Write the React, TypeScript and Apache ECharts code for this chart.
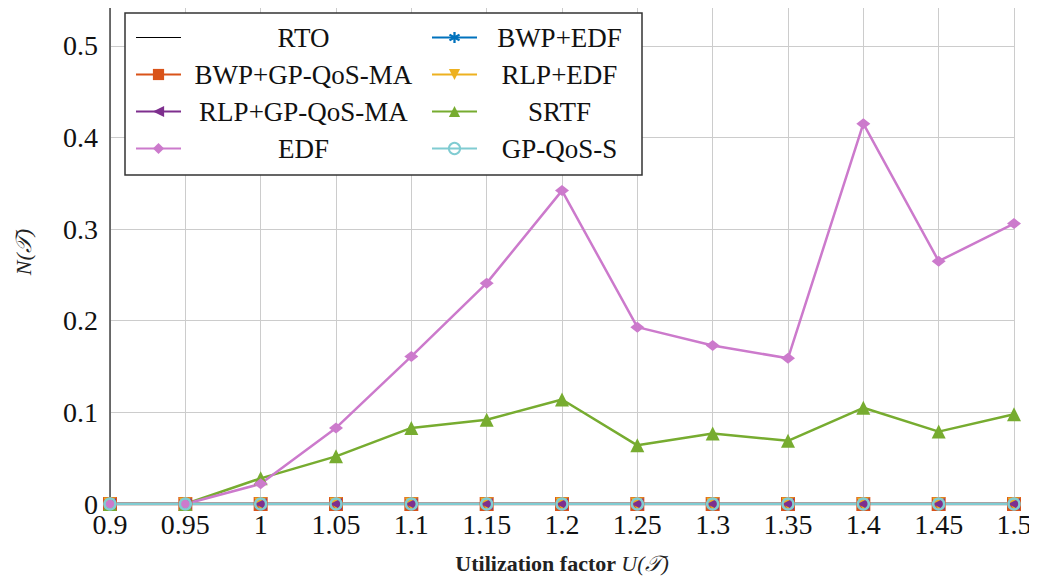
import React, { useEffect, useRef } from "react";
import * as echarts from "echarts";

const categories = ["0.9", "0.95", "1", "1.05", "1.1", "1.15", "1.2", "1.25", "1.3", "1.35", "1.4", "1.45", "1.5"];
const zeros = [0, 0, 0, 0, 0, 0, 0, 0, 0, 0, 0, 0, 0];
const rto = zeros;
const bwpEdf = zeros;
const bwpGpQosMa = zeros;
const rlpEdf = zeros;
const rlpGpQosMa = zeros;
const srtf = [0, 0, 0.028, 0.052, 0.083, 0.092, 0.114, 0.064, 0.077, 0.069, 0.105, 0.079, 0.098];
const edf = [0, 0, 0.022, 0.083, 0.161, 0.241, 0.342, 0.193, 0.173, 0.159, 0.415, 0.265, 0.306];
const gpQosS = zeros;
const yTicks = [0, 0.1, 0.2, 0.3, 0.4, 0.5];

const FONT = "Liberation Serif";
const DIAMOND = "path://M0,5L7,0L14,5L7,10Z";
const ASTERISK =
  "path://M4,0h2v3.3l2.9-1.7l1,1.7L7,5l2.9,1.7l-1,1.7L6,6.7V10H4V6.7L1.1,8.4l-1-1.7L3,5L0.1,3.3l1-1.7L4,3.3Z";
const STRIPE = "path://M0,0h0.01v0.01h-0.01z M0,6.6H45V7.4H0z M44.99,13.99h0.01v0.01h-0.01z";

const col1 = ["RTO", "BWP+GP-QoS-MA", "RLP+GP-QoS-MA", "EDF"];

export default function App() {
  const ref = useRef<HTMLDivElement>(null);
  useEffect(() => {
    if (!ref.current) return;
    const chart = echarts.init(ref.current, undefined, { renderer: "svg" });
    const mk = (name: string, data: number[], color: string, symbol: string, size: any, extra: any = {}) => ({
      name,
      type: "line",
      data,
      symbol,
      symbolSize: size,
      showSymbol: symbol !== "none",
      lineStyle: { color, width: 2.5 },
      itemStyle: { color },
      emphasis: { disabled: true },
      ...extra,
    });
    chart.setOption({
      animation: false,
      backgroundColor: "#ffffff",
      grid: { left: 110, right: 23, top: 0, bottom: 82, containLabel: false },
      legend: {
        left: 125,
        top: 13,
        width: 505,
        orient: "horizontal",
        itemWidth: 45,
        itemHeight: 14,
        itemGap: 10,
        itemTextGap: 5,
        padding: [11, 5, 13, 10],
        borderColor: "#333333",
        borderWidth: 1.5,
        backgroundColor: "#ffffff",
        data: [
          { name: "RTO", icon: STRIPE },
          "BWP+EDF",
          "BWP+GP-QoS-MA",
          "RLP+EDF",
          "RLP+GP-QoS-MA",
          "SRTF",
          "EDF",
          "GP-QoS-S",
        ],
        formatter: (n: string) => (col1.includes(n) ? `{a|${n}}` : `{b|${n}}`),
        textStyle: {
          fontFamily: FONT,
          fontSize: 27,
          color: "#111",
          rich: {
            a: { width: 235, align: "center", fontFamily: FONT, fontSize: 27, lineHeight: 24, color: "#111" },
            b: { width: 155, align: "center", fontFamily: FONT, fontSize: 27, lineHeight: 24, color: "#111" },
          },
        },
      },
      xAxis: {
        type: "category",
        data: categories,
        boundaryGap: false,
        name: "{b|Utilization factor }{i|U(𝒯)}",
        nameLocation: "middle",
        nameGap: 48,
        nameTextStyle: {
          rich: {
            b: { fontFamily: FONT, fontSize: 22, fontWeight: "bold", color: "#222" },
            i: { fontFamily: FONT, fontSize: 22, fontStyle: "italic", color: "#222" },
          },
        },
        axisLine: { show: true, lineStyle: { color: "#444", width: 1.5 } },
        axisTick: { show: false },
        axisLabel: { fontFamily: FONT, fontSize: 28, color: "#111", margin: 6 },
        splitLine: { show: true, lineStyle: { color: "#cccccc", width: 1 } },
      },
      yAxis: {
        type: "value",
        min: 0,
        max: 0.55,
        interval: 0.1,
        name: "{i|N(𝒯)}",
        nameLocation: "middle",
        nameGap: 76,
        nameTextStyle: {
          rich: { i: { fontFamily: FONT, fontSize: 22, fontStyle: "italic", color: "#222" } },
        },
        axisLine: { show: true, lineStyle: { color: "#444", width: 1.5 } },
        axisTick: { show: false },
        axisLabel: {
          fontFamily: FONT,
          fontSize: 28,
          color: "#111",
          margin: 12,
          formatter: (v: number) => {
            const t = yTicks.find((y) => Math.abs(y - v) < 1e-6);
            return t === undefined ? "" : String(t);
          },
        },
        splitLine: { show: true, lineStyle: { color: "#cccccc", width: 1 } },
      },
      series: [
        mk("RTO", rto, "#000000", "none", 0, { lineStyle: { color: "#000", width: 1 } }),
        mk("BWP+EDF", bwpEdf, "#0072BD", ASTERISK, 11),
        mk("BWP+GP-QoS-MA", bwpGpQosMa, "#D95319", "rect", 14),
        mk("RLP+EDF", rlpEdf, "#EDB120", "triangle", 13, { symbolRotate: 180 }),
        mk("RLP+GP-QoS-MA", rlpGpQosMa, "#7E2F8E", "triangle", 12, { symbolRotate: 90 }),
        mk("SRTF", srtf, "#77AC30", "triangle", 14),
        mk("EDF", edf, "#CC7ACC", DIAMOND, [14, 11]),
        mk("GP-QoS-S", gpQosS, "#80CCD2", "circle", 11, {
          itemStyle: { color: "rgba(255,255,255,0)", borderColor: "#80CCD2", borderWidth: 2.5 },
        }),
      ],
    });
    return () => chart.dispose();
  }, []);
  return <div ref={ref} style={{ width: 1037, height: 586, margin: -8 }} />;
}
